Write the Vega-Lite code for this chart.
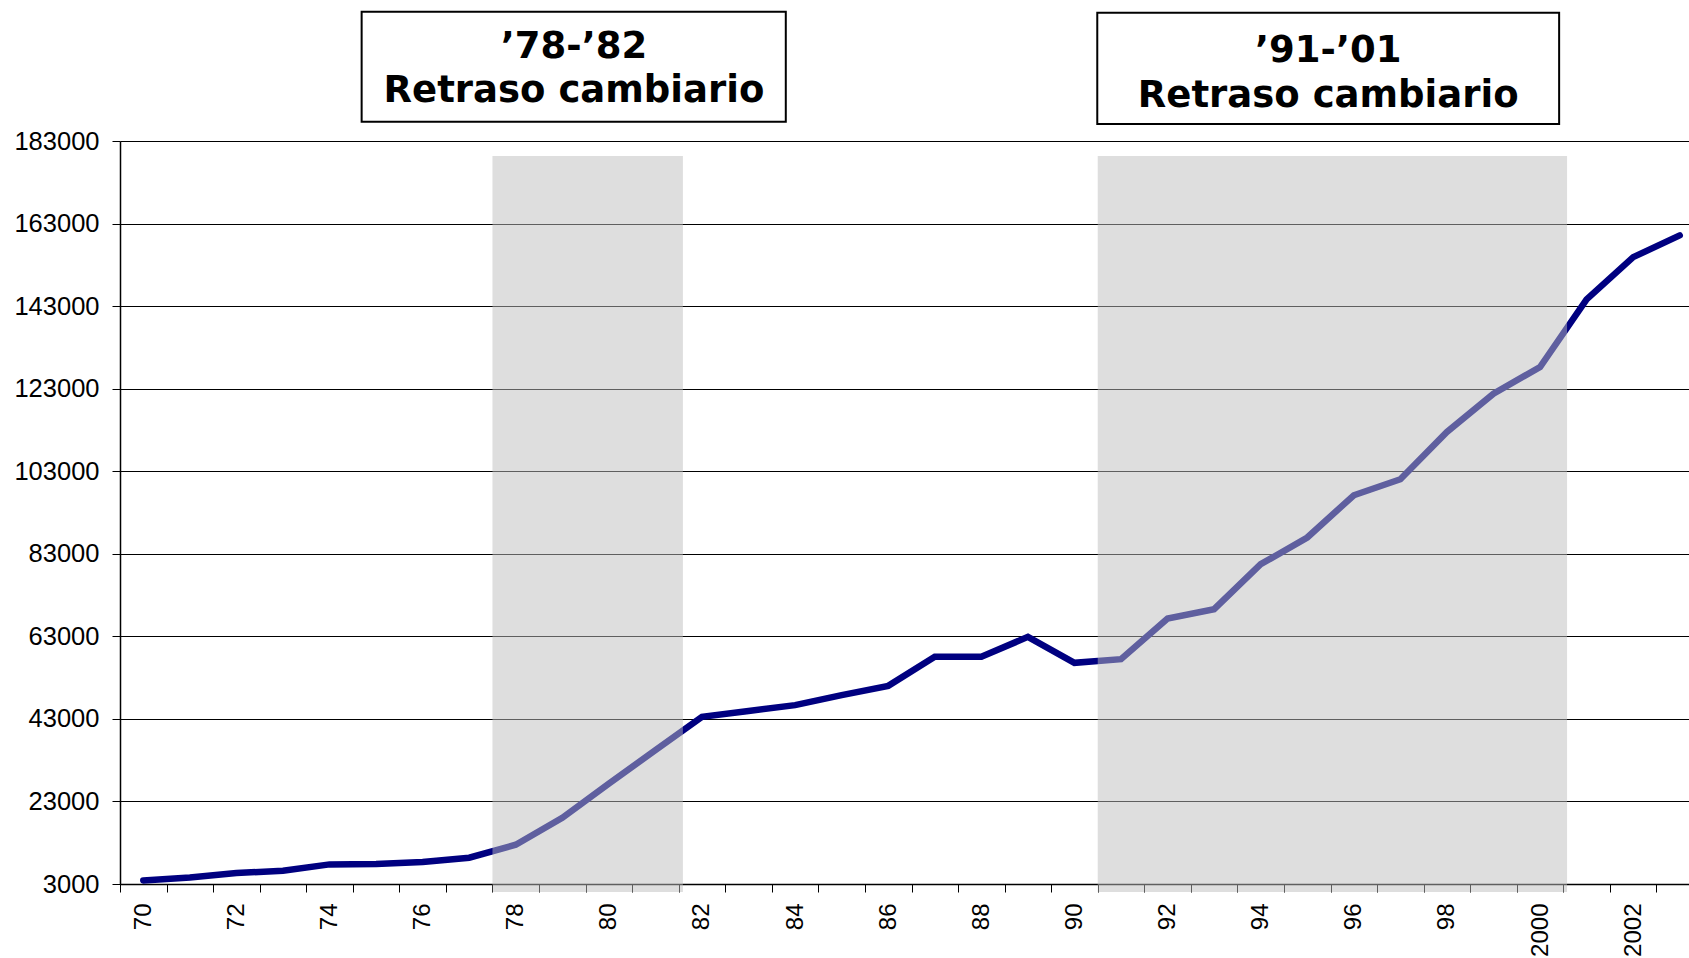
{
  "$schema": "https://vega.github.io/schema/vega-lite/v6.json",
  "width": 1569,
  "height": 743,
  "autosize": {"type": "none"},
  "padding": {"left": 120, "top": 141, "right": 0, "bottom": 74},
  "background": "white",
  "config": {"view": {"stroke": null}},
  "datasets": {
    "series": [
      {"yr": "70", "v": 3870}, {"yr": "71", "v": 4600}, {"yr": "72", "v": 5660}, {"yr": "73", "v": 6220},
      {"yr": "74", "v": 7750}, {"yr": "75", "v": 7840}, {"yr": "76", "v": 8330}, {"yr": "77", "v": 9370},
      {"yr": "78", "v": 12520}, {"yr": "79", "v": 19050}, {"yr": "80", "v": 27300}, {"yr": "81", "v": 35440},
      {"yr": "82", "v": 43500}, {"yr": "83", "v": 44930}, {"yr": "84", "v": 46330}, {"yr": "85", "v": 48760},
      {"yr": "86", "v": 51000}, {"yr": "87", "v": 58030}, {"yr": "88", "v": 58030}, {"yr": "89", "v": 62870},
      {"yr": "90", "v": 56580}, {"yr": "91", "v": 57470}, {"yr": "92", "v": 67320}, {"yr": "93", "v": 69580},
      {"yr": "94", "v": 80470}, {"yr": "95", "v": 86940}, {"yr": "96", "v": 97180}, {"yr": "97", "v": 101050},
      {"yr": "98", "v": 112500}, {"yr": "99", "v": 121800}, {"yr": "2000", "v": 128240}, {"yr": "2001", "v": 144630},
      {"yr": "2002", "v": 154870}, {"yr": "2003", "v": 160130}
    ],
    "shade": [
      {"a": 1977.5, "b": 1981.59, "lo": 1060, "hi": 179360},
      {"a": 1990.5, "b": 2000.58, "lo": 1060, "hi": 179360}
    ],
    "boxes": [
      {"a": 1974.69, "b": 1983.8, "lo": 187670, "hi": 214310},
      {"a": 1990.49, "b": 2000.41, "lo": 187110, "hi": 214070}
    ],
    "notes": [
      {"x": 1979.25, "y": 203030, "t": "’78-’82"},
      {"x": 1979.25, "y": 192520, "t": "Retraso cambiario"},
      {"x": 1995.45, "y": 202200, "t": "’91-’01"},
      {"x": 1995.45, "y": 191310, "t": "Retraso cambiario"}
    ]
  },
  "resolve": {"scale": {"x": "independent"}},
  "layer": [
    {
      "data": {"name": "series"},
      "mark": {"type": "line", "color": "#000080", "strokeWidth": 6.5, "strokeCap": "round", "strokeJoin": "miter"},
      "encoding": {
        "x": {
          "field": "yr", "type": "ordinal", "sort": null, "bandPosition": 0.5,
          "scale": {"type": "band", "paddingInner": 0, "paddingOuter": 0, "range": [0, 1583]},
          "axis": {
            "title": null, "tickBand": "extent", "labelAngle": -90,
            "labelFont": "Liberation Sans", "labelFontSize": 24, "labelColor": "#000",
            "tickColor": "#000", "tickSize": 8, "domainColor": "#000", "domainWidth": 1.5,
            "labelPadding": 11, "labelOverlap": false, "grid": false,
            "labelExpr": "indexof(['70','72','74','76','78','80','82','84','86','88','90','92','94','96','98','2000','2002'], datum.value) >= 0 ? datum.value : ''"
          }
        },
        "y": {
          "field": "v", "type": "quantitative", "title": null,
          "scale": {"domain": [3000, 183000], "nice": false, "zero": false},
          "axis": {
            "values": [3000, 23000, 43000, 63000, 83000, 103000, 123000, 143000, 163000, 183000],
            "format": "d", "grid": true, "gridColor": "#000", "gridWidth": 1,
            "tickSize": 8, "tickColor": "#000", "domainColor": "#000", "domainWidth": 1.5,
            "labelFont": "Liberation Sans", "labelFontSize": 25.5, "labelColor": "#000", "labelPadding": 13
          }
        }
      }
    },
    {
      "layer": [
        {
          "data": {"name": "shade"},
          "mark": {"type": "rect", "color": "#bdbdbd", "fillOpacity": 0.5, "strokeWidth": 0},
          "encoding": {
            "x": {"field": "a", "type": "quantitative", "scale": {"domain": [1969.5, 2003.5], "range": [0, 1583], "nice": false, "zero": false}, "axis": null},
            "x2": {"field": "b"},
            "y": {"field": "lo", "type": "quantitative", "title": null, "scale": {"domain": [3000, 183000], "nice": false, "zero": false}},
            "y2": {"field": "hi"}
          }
        },
        {
          "data": {"name": "boxes"},
          "mark": {"type": "rect", "fill": "#ffffff", "stroke": "#000000", "strokeWidth": 2},
          "encoding": {
            "x": {"field": "a", "type": "quantitative", "scale": {"domain": [1969.5, 2003.5], "range": [0, 1583], "nice": false, "zero": false}, "axis": null},
            "x2": {"field": "b"},
            "y": {"field": "lo", "type": "quantitative", "title": null, "scale": {"domain": [3000, 183000], "nice": false, "zero": false}},
            "y2": {"field": "hi"}
          }
        },
        {
          "data": {"name": "notes"},
          "mark": {"type": "text", "font": "DejaVu Sans", "fontWeight": "bold", "fontSize": 37, "align": "center", "baseline": "alphabetic", "color": "#000"},
          "encoding": {
            "x": {"field": "x", "type": "quantitative", "scale": {"domain": [1969.5, 2003.5], "range": [0, 1583], "nice": false, "zero": false}, "axis": null},
            "y": {"field": "y", "type": "quantitative", "title": null, "scale": {"domain": [3000, 183000], "nice": false, "zero": false}},
            "text": {"field": "t"}
          }
        }
      ]
    }
  ]
}
